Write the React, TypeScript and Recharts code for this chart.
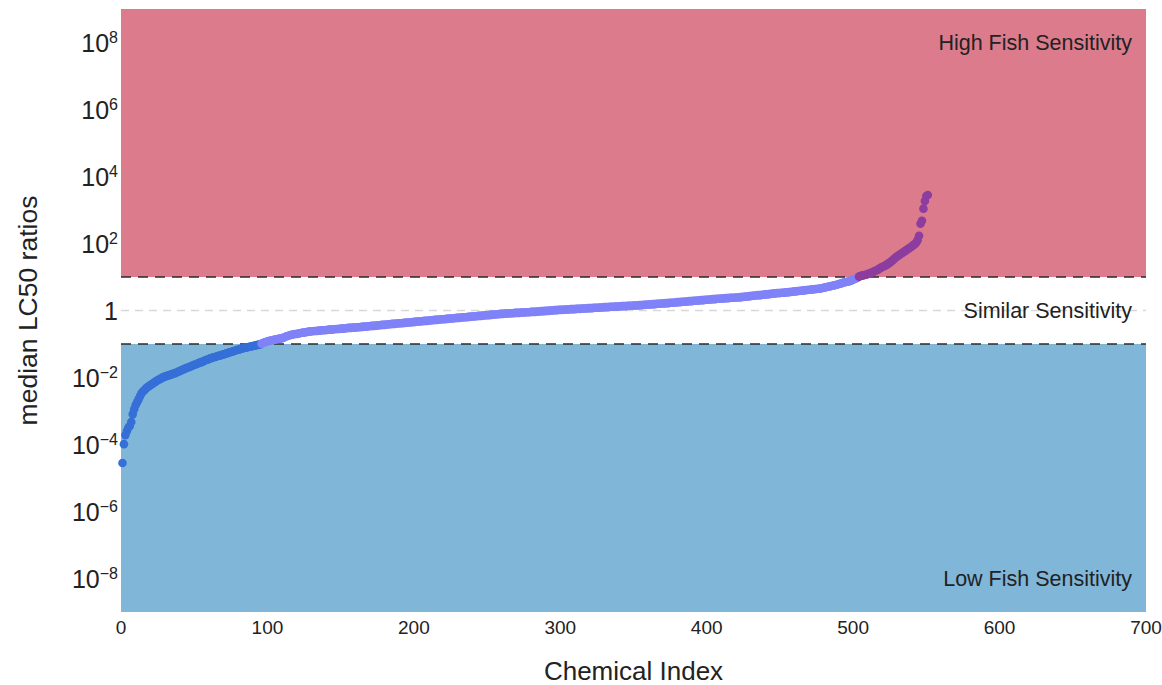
import React from 'react';
import { ScatterChart, Scatter, XAxis, YAxis, ReferenceArea, ReferenceLine } from 'recharts';

// log10 of median LC50 ratio, chemicals sorted by index 1..551
const logRatios: number[] = [
  -4.55,-3.99,-3.72,-3.60,-3.50,-3.45,-3.33,-3.10,-2.95,-2.82,
  -2.74,-2.65,-2.56,-2.47,-2.42,-2.38,-2.33,-2.29,-2.26,-2.23,
  -2.20,-2.17,-2.14,-2.11,-2.08,-2.06,-2.04,-2.01,-1.99,-1.97,
  -1.96,-1.94,-1.93,-1.91,-1.90,-1.88,-1.87,-1.85,-1.83,-1.81,
  -1.79,-1.77,-1.75,-1.73,-1.71,-1.70,-1.68,-1.66,-1.64,-1.62,
  -1.61,-1.59,-1.57,-1.55,-1.54,-1.52,-1.50,-1.48,-1.47,-1.45,
  -1.43,-1.42,-1.40,-1.39,-1.38,-1.36,-1.35,-1.34,-1.32,-1.31,
  -1.30,-1.28,-1.27,-1.25,-1.24,-1.23,-1.21,-1.20,-1.18,-1.17,
  -1.16,-1.14,-1.13,-1.12,-1.11,-1.10,-1.09,-1.08,-1.07,-1.06,
  -1.05,-1.04,-1.03,-1.02,-1.01,-0.99,-0.97,-0.95,-0.94,-0.92,
  -0.91,-0.90,-0.89,-0.88,-0.87,-0.86,-0.85,-0.84,-0.84,-0.83,
  -0.81,-0.79,-0.77,-0.76,-0.74,-0.73,-0.72,-0.71,-0.70,-0.70,
  -0.69,-0.68,-0.67,-0.66,-0.66,-0.65,-0.64,-0.63,-0.63,-0.62,
  -0.62,-0.61,-0.61,-0.61,-0.60,-0.60,-0.59,-0.59,-0.59,-0.58,
  -0.58,-0.57,-0.57,-0.57,-0.56,-0.56,-0.55,-0.55,-0.55,-0.54,
  -0.54,-0.54,-0.53,-0.53,-0.52,-0.52,-0.52,-0.51,-0.51,-0.51,
  -0.50,-0.50,-0.50,-0.49,-0.49,-0.48,-0.48,-0.48,-0.47,-0.47,
  -0.46,-0.46,-0.46,-0.45,-0.45,-0.44,-0.44,-0.43,-0.43,-0.43,
  -0.42,-0.42,-0.41,-0.41,-0.40,-0.40,-0.40,-0.39,-0.39,-0.38,
  -0.38,-0.38,-0.37,-0.37,-0.36,-0.36,-0.36,-0.35,-0.35,-0.34,
  -0.34,-0.33,-0.33,-0.33,-0.32,-0.32,-0.31,-0.31,-0.31,-0.30,
  -0.30,-0.29,-0.29,-0.28,-0.28,-0.28,-0.27,-0.27,-0.26,-0.26,
  -0.26,-0.25,-0.25,-0.24,-0.24,-0.24,-0.23,-0.23,-0.22,-0.22,
  -0.22,-0.21,-0.21,-0.20,-0.20,-0.20,-0.19,-0.19,-0.18,-0.18,
  -0.18,-0.17,-0.17,-0.16,-0.16,-0.16,-0.15,-0.15,-0.14,-0.14,
  -0.14,-0.13,-0.13,-0.12,-0.12,-0.12,-0.11,-0.11,-0.10,-0.10,
  -0.10,-0.09,-0.09,-0.09,-0.09,-0.08,-0.08,-0.08,-0.07,-0.07,
  -0.07,-0.07,-0.06,-0.06,-0.06,-0.06,-0.05,-0.05,-0.05,-0.04,
  -0.04,-0.04,-0.04,-0.03,-0.03,-0.03,-0.02,-0.02,-0.02,-0.01,
  -0.01,-0.01,0.00,0.00,0.00,0.01,0.01,0.01,0.02,0.02,
  0.02,0.02,0.03,0.03,0.03,0.03,0.04,0.04,0.04,0.04,
  0.05,0.05,0.05,0.05,0.06,0.06,0.06,0.06,0.07,0.07,
  0.07,0.07,0.08,0.08,0.08,0.08,0.09,0.09,0.09,0.10,
  0.10,0.10,0.10,0.11,0.11,0.11,0.11,0.12,0.12,0.12,
  0.12,0.13,0.13,0.13,0.13,0.14,0.14,0.14,0.14,0.15,
  0.15,0.15,0.15,0.16,0.16,0.16,0.17,0.17,0.17,0.18,
  0.18,0.18,0.19,0.19,0.19,0.20,0.20,0.20,0.21,0.21,
  0.21,0.22,0.22,0.22,0.23,0.23,0.23,0.24,0.24,0.25,
  0.25,0.25,0.26,0.26,0.26,0.27,0.27,0.28,0.28,0.28,
  0.29,0.29,0.29,0.30,0.30,0.31,0.31,0.31,0.32,0.32,
  0.32,0.33,0.33,0.34,0.34,0.34,0.35,0.35,0.35,0.36,
  0.36,0.36,0.37,0.37,0.37,0.38,0.38,0.38,0.38,0.39,
  0.39,0.39,0.40,0.40,0.41,0.41,0.42,0.42,0.43,0.43,
  0.44,0.44,0.45,0.45,0.46,0.46,0.46,0.47,0.47,0.48,
  0.48,0.49,0.49,0.50,0.50,0.51,0.51,0.52,0.52,0.52,
  0.53,0.53,0.53,0.54,0.54,0.55,0.55,0.56,0.56,0.57,
  0.57,0.58,0.58,0.59,0.59,0.60,0.60,0.61,0.61,0.62,
  0.62,0.63,0.63,0.64,0.64,0.65,0.65,0.66,0.67,0.68,
  0.69,0.70,0.71,0.72,0.73,0.74,0.75,0.76,0.77,0.79,
  0.80,0.81,0.83,0.84,0.85,0.86,0.87,0.88,0.90,0.92,
  0.94,0.96,0.98,1.01,1.03,1.04,1.05,1.06,1.07,1.09,
  1.10,1.12,1.14,1.16,1.18,1.20,1.22,1.25,1.28,1.30,
  1.32,1.34,1.37,1.40,1.43,1.46,1.50,1.54,1.58,1.61,
  1.64,1.67,1.70,1.73,1.76,1.79,1.82,1.85,1.88,1.91,
  1.95,1.98,2.02,2.10,2.23,2.59,2.68,3.04,3.27,3.42,3.45,
];

const xTicks: number[] = [0, 100, 200, 300, 400, 500, 600, 700];
const yTicks: number[] = [-8, -6, -4, -2, 0, 2, 4, 6, 8];
const zoneLabels: string[] = ['High Fish Sensitivity', 'Similar Sensitivity', 'Low Fish Sensitivity'];

const data = logRatios.map((v, i) => ({ idx: i + 1, v }));

const FONT = '"Liberation Sans", Arial, sans-serif';

const pointColor = (v: number) => (v > 1 ? '#8c3d9e' : v < -1 ? '#356fd7' : '#8082f8');

const YTick = (props: any) => {
  const { x, y, payload } = props;
  const e = payload.value;
  if (e === 0) {
    return (
      <text x={x} y={y} dy="0.36em" textAnchor="end" fontSize={25} fill="#222" fontFamily={FONT}>1</text>
    );
  }
  return (
    <text x={x} y={y} dy="0.36em" textAnchor="end" fontSize={25} fill="#222" fontFamily={FONT}>
      10<tspan dy="-0.55em" fontSize={16}>{e < 0 ? '\u2212' + Math.abs(e) : String(e)}</tspan>
    </text>
  );
};

const Dot = (props: any) => {
  const { cx, cy, payload } = props;
  return <circle cx={cx} cy={cy} r={4.3} fill={pointColor(payload.v)} />;
};

const labelStyle = { fill: '#222', fontSize: 21.5, fontFamily: FONT };

export default function App() {
  return (
    <div style={{ width: 1162, height: 685, background: '#fff' }}>
      <style>{'body{margin:0}'}</style>
      <ScatterChart width={1162} height={685} margin={{ top: 9, right: 16, bottom: 0, left: 0 }}>
        <XAxis
          type="number"
          dataKey="idx"
          domain={[0, 700]}
          ticks={xTicks}
          axisLine={false}
          tickLine={false}
          tickSize={0}
          tickMargin={9}
          height={73}
          tick={{ fill: '#222', fontSize: 19, fontFamily: FONT }}
          label={{ value: 'Chemical Index', position: 'insideBottom', offset: 5, fill: '#222', fontSize: 26, fontFamily: FONT }}
        />
        <YAxis
          type="number"
          dataKey="v"
          domain={[-9, 9]}
          ticks={yTicks}
          axisLine={false}
          tickLine={false}
          tickSize={0}
          tickMargin={3}
          width={121}
          tick={<YTick />}
          label={{ value: 'median LC50 ratios', angle: -90, position: 'insideLeft', offset: 28, style: { textAnchor: 'middle' }, fill: '#222', fontSize: 26.5, fontFamily: FONT }}
        />
        <ReferenceArea x1={0} x2={700} y1={1} y2={9} fill="#dc7b8c" fillOpacity={1} stroke="none" />
        <ReferenceArea x1={0} x2={700} y1={-9} y2={-1} fill="#80b6d8" fillOpacity={1} stroke="none" />
        <ReferenceLine y={0} stroke="#d8d8d8" strokeDasharray="8 6" strokeWidth={1.5}
          label={{ value: zoneLabels[1], position: 'insideRight', offset: 14, ...labelStyle }} />
        <ReferenceLine y={8} stroke="none"
          label={{ value: zoneLabels[0], position: 'insideRight', offset: 14, ...labelStyle }} />
        <ReferenceLine y={-8} stroke="none"
          label={{ value: zoneLabels[2], position: 'insideRight', offset: 14, ...labelStyle }} />
        <ReferenceLine y={1} stroke="#2a2a2a" strokeDasharray="10 7" strokeWidth={1.5} />
        <ReferenceLine y={-1} stroke="#2a2a2a" strokeDasharray="10 7" strokeWidth={1.5} />
        <Scatter data={data} shape={<Dot />} isAnimationActive={false} />
      </ScatterChart>
    </div>
  );
}
